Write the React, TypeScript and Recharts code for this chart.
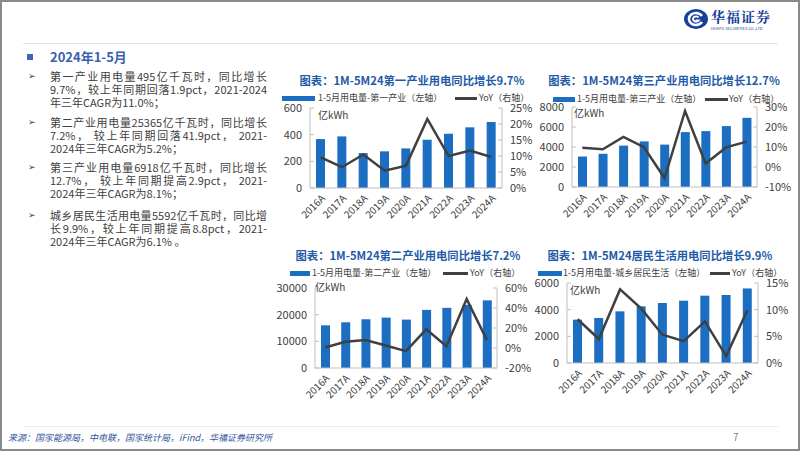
import { Bar, ComposedChart, Line, XAxis, YAxis } from "recharts";

const years = ["2016A", "2017A", "2018A", "2019A", "2020A", "2021A", "2022A", "2023A", "2024A"];

// 1-5月用电量（亿kWh）与同比（%）
const primaryUse = [367, 387, 262, 275, 297, 362, 407, 455, 495];
const primaryYoy = [9.6, 6.5, 10.5, 5.4, 7.0, 21.6, 10.0, 11.7, 9.7];
const tertiaryUse = [3050, 3320, 4140, 4560, 4240, 5490, 5590, 6090, 6918];
const tertiaryYoy = [9.6, 8.9, 15.0, 9.9, -5.5, 28.0, 1.8, 9.8, 12.7];
const secondaryUse = [16000, 17150, 18280, 18900, 18150, 21800, 22560, 23700, 25365];
const secondaryYoy = [0.5, 6.2, 7.9, 2.5, -3.2, 18.7, 1.8, 48.9, 8.0];
const residentUse = [3250, 3375, 3875, 4250, 4500, 4675, 5050, 5100, 5592];
const residentYoy = [8.2, 4.5, 13.8, 10.2, 5.3, 4.1, 7.8, 1.3, 9.9];

const BLUE = "#1c6ec2";
const LINE = "#404040";
const AXIS = "#bfbfbf";
const TITLE = "#1f5ba8";
const FONT = '"Noto Sans CJK SC", "Noto Sans", sans-serif';

const bullets = [
  ["第一产业用电量495亿千瓦时，同比增长", "9.7%，较上年同期回落1.9pct，2021-2024", "年三年CAGR为11.0%；"],
  ["第二产业用电量25365亿千瓦时，同比增长", "7.2%， 较上年同期回落41.9pct， 2021-", "2024年三年CAGR为5.2%；"],
  ["第三产业用电量6918亿千瓦时，同比增长", "12.7%， 较上年同期提高2.9pct， 2021-", "2024年三年CAGR为8.1%；"],
  ["城乡居民生活用电量5592亿千瓦时，同比增", "长9.9%，较上年同期提高8.8pct，2021-", "2024年三年CAGR为6.1% 。"],
];
const bulletTops = [70, 116, 161, 209];

interface ChartCfg {
  title: string;
  titleX: number;
  titleY: number;
  barName: string;
  use: number[];
  yoy: number[];
  leftTicks: number[];
  rightTicks: number[];
  box: [number, number, number, number];
  margin: { top: number; right: number; bottom: number; left: number };
  leftW: number;
  rightW: number;
  legendY: number;
  legend: [number, number, number, number, number, number]; // barX, barW, textX, lineX, lineW, yoyX
  unit: [number, number];
}

const charts: ChartCfg[] = [
  {
    title: "图表：1M-5M24第一产业用电同比增长9.7%",
    titleX: 412,
    titleY: 80,
    barName: "1-5月用电量-第一产业（左轴）",
    use: primaryUse,
    yoy: primaryYoy,
    leftTicks: [0, 200, 400, 600],
    rightTicks: [0, 5, 10, 15, 20, 25],
    box: [270, 100, 270, 130],
    margin: { top: 8, right: 8, bottom: 6, left: 0 },
    leftW: 40,
    rightW: 30,
    legendY: 98,
    legend: [282, 33, 318, 455, 22, 479],
    unit: [318, 115],
  },
  {
    title: "图表：1M-5M24第三产业用电同比增长12.7%",
    titleX: 664,
    titleY: 80,
    barName: "1-5月用电量-第三产业（左轴）",
    use: tertiaryUse,
    yoy: tertiaryYoy,
    leftTicks: [0, 2000, 4000, 6000, 8000],
    rightTicks: [-10, 0, 10, 20, 30],
    box: [530, 100, 272, 130],
    margin: { top: 7, right: 15, bottom: 7, left: 0 },
    leftW: 42,
    rightW: 30,
    legendY: 99,
    legend: [553, 22, 577, 705, 23, 729],
    unit: [574, 113],
  },
  {
    title: "图表：1M-5M24第二产业用电同比增长7.2%",
    titleX: 408,
    titleY: 255,
    barName: "1-5月用电量-第二产业（左轴）",
    use: secondaryUse,
    yoy: secondaryYoy,
    leftTicks: [0, 10000, 20000, 30000],
    rightTicks: [-20, 0, 20, 40, 60],
    box: [265, 280, 270, 130],
    margin: { top: 8, right: 5, bottom: 6, left: 0 },
    leftW: 50,
    rightW: 33,
    legendY: 273,
    legend: [290, 20, 312, 443, 25, 470],
    unit: [315, 287],
  },
  {
    title: "图表：1M-5M24居民生活用电同比增长9.9%",
    titleX: 660,
    titleY: 255,
    barName: "1-5月用电量-城乡居民生活（左轴）",
    use: residentUse,
    yoy: residentYoy,
    leftTicks: [0, 2000, 4000, 6000],
    rightTicks: [0, 5, 10, 15],
    box: [527, 276, 275, 130],
    margin: { top: 7, right: 14, bottom: 7, left: 0 },
    leftW: 40,
    rightW: 30,
    legendY: 273,
    legend: [538, 24, 563, 710, 20, 732],
    unit: [570, 290],
  },
];

function PowerChart({ c }: { c: ChartCfg }) {
  const data = years.map((y, i) => ({ year: y, use: c.use[i], yoy: c.yoy[i] }));
  const [bx, bw, tx, lx, lw, yx] = c.legend;
  const rt = c.rightTicks;
  const lt = c.leftTicks;
  return (
    <>
      <div
        style={{
          position: "absolute",
          left: c.titleX - 150,
          width: 300,
          top: c.titleY - 9,
          height: 18,
          lineHeight: "18px",
          textAlign: "center",
          fontSize: 11.3,
          fontWeight: 700,
          color: TITLE,
          whiteSpace: "nowrap",
        }}
      >
        {c.title}
      </div>
      <div style={{ position: "absolute", left: bx, top: c.legendY - 2.5, width: bw, height: 5, background: BLUE }} />
      <div style={{ position: "absolute", left: tx, top: c.legendY - 6, fontSize: 9, lineHeight: "12px", color: "#404040", whiteSpace: "nowrap" }}>
        {c.barName}
      </div>
      <div style={{ position: "absolute", left: lx, top: c.legendY - 1, width: lw, height: 2.5, background: LINE }} />
      <div style={{ position: "absolute", left: yx, top: c.legendY - 6, fontSize: 9, lineHeight: "12px", color: "#404040", whiteSpace: "nowrap" }}>
        YoY（右轴）
      </div>
      <div style={{ position: "absolute", left: c.box[0], top: c.box[1] }}>
        <ComposedChart
          width={c.box[2]}
          height={c.box[3]}
          data={data}
          margin={c.margin}
          style={{ overflow: "visible" }}
        >
          <XAxis
            dataKey="year"
            interval={0}
            angle={-45}
            textAnchor="end"
            height={36}
            tickLine={false}
            tickSize={4}
            tick={{ fontSize: 10, fill: "#404040" }}
            axisLine={{ stroke: AXIS }}
          />
          <YAxis
            yAxisId="l"
            width={c.leftW}
            domain={[lt[0], lt[lt.length - 1]]}
            ticks={lt}
            interval={0}
            tickSize={-4}
            tickMargin={12}
            tickLine={{ stroke: AXIS }}
            axisLine={{ stroke: AXIS }}
            tick={{ fontSize: 11, fill: "#404040" }}
          />
          <YAxis
            yAxisId="r"
            orientation="right"
            width={c.rightW}
            domain={[rt[0], rt[rt.length - 1]]}
            ticks={rt}
            interval={0}
            tickSize={-4}
            tickMargin={12}
            tickLine={{ stroke: AXIS }}
            axisLine={{ stroke: AXIS }}
            tickFormatter={(v: number) => `${v}%`}
            tick={{ fontSize: 11, fill: "#404040" }}
          />
          <Bar yAxisId="l" dataKey="use" fill={BLUE} barSize={9} isAnimationActive={false} />
          <Line
            yAxisId="r"
            type="linear"
            dataKey="yoy"
            stroke={LINE}
            strokeWidth={2.5}
            dot={false}
            activeDot={false}
            isAnimationActive={false}
          />
        </ComposedChart>
      </div>
      <div style={{ position: "absolute", left: c.unit[0], top: c.unit[1] - 7, fontSize: 10, lineHeight: "14px", color: "#404040" }}>
        亿kWh
      </div>
    </>
  );
}

function Logo() {
  return (
    <>
      <svg style={{ position: "absolute", left: 683, top: 8 }} width={26} height={22} viewBox="0 0 26 22">
        <ellipse cx={13} cy={11} rx={12} ry={10} fill="#17409a" />
        <path d="M19 8 A7 6 0 1 0 19 14" fill="none" stroke="#fff" strokeWidth={2.6} />
        <path d="M15.5 9.5 A3 2.6 0 1 0 15.5 12.5 L12.5 12.5" fill="none" stroke="#fff" strokeWidth={2} />
      </svg>
      <div
        style={{
          position: "absolute",
          left: 711,
          top: 8,
          fontSize: 14,
          lineHeight: "16px",
          fontFamily: '"Noto Serif CJK SC", "Noto Sans CJK SC", serif',
          fontWeight: 700,
          color: "#17409a",
          letterSpacing: 1,
        }}
      >
        华福证券
      </div>
      <div style={{ position: "absolute", left: 711, top: 26, fontSize: 4, lineHeight: "5px", color: "#17409a", whiteSpace: "nowrap" }}>
        HUAFU SECURITIES CO.,LTD
      </div>
    </>
  );
}

export default function App() {
  return (
    <div
      style={{
        position: "absolute",
        left: 0,
        top: 0,
        width: 802,
        height: 452,
        background: "#fff",
        overflow: "hidden",
        fontFamily: FONT,
      }}
    >
      <div style={{ position: "absolute", left: 0, top: 0, width: 800, height: 451, boxSizing: "border-box", border: "2px solid #8a8a8a" }} />
      <Logo />
      <div style={{ position: "absolute", left: 23, top: 43, width: 755, height: 1, background: "#e4e4e4" }} />
      <div style={{ position: "absolute", left: 27, top: 54, width: 6, height: 6, background: "#3f64b5" }} />
      <div style={{ position: "absolute", left: 50, top: 48, fontSize: 13, lineHeight: "18px", fontWeight: 700, color: "#3b5fb0" }}>
        2024年1-5月
      </div>
      {bullets.map((b, i) => (
        <div key={i}>
          <div
            style={{
              position: "absolute",
              left: 28,
              top: bulletTops[i],
              fontSize: 9,
              lineHeight: "13px",
              color: "#404040",
              fontFamily: '"DejaVu Sans", sans-serif',
            }}
          >
            ➢
          </div>
          {b.map((line, j) => (
            <div
              key={j}
              style={{
                position: "absolute",
                left: 50,
                top: bulletTops[i] + j * 13,
                width: 217,
                fontSize: 11,
                lineHeight: "13px",
                color: "#404040",
                whiteSpace: "nowrap",
                textAlign: "justify",
                textAlignLast: j < b.length - 1 ? "justify" : "left",
              }}
            >
              {line}
            </div>
          ))}
        </div>
      ))}
      {charts.map((c, i) => (
        <PowerChart key={i} c={c} />
      ))}
      <div style={{ position: "absolute", left: 23, top: 426, width: 755, height: 1, background: "#ececec" }} />
      <div
        style={{
          position: "absolute",
          left: 8,
          top: 431,
          fontSize: 9,
          lineHeight: "14px",
          fontStyle: "italic",
          color: "#2f5597",
          whiteSpace: "nowrap",
        }}
      >
        来源：国家能源局，中电联，国家统计局，iFind，华福证券研究所
      </div>
      <div style={{ position: "absolute", left: 733, top: 430, fontSize: 10, lineHeight: "14px", color: "#7f7f7f" }}>7</div>
    </div>
  );
}
